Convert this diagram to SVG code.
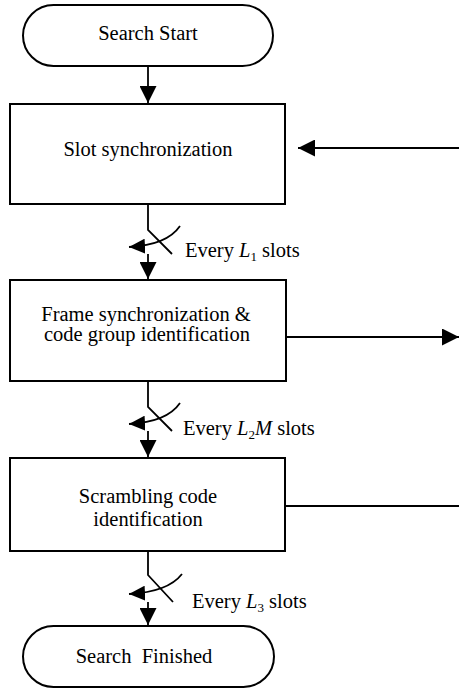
<svg xmlns="http://www.w3.org/2000/svg" width="459" height="690" viewBox="0 0 459 690">
  <style>
    .shape { fill: #fff; stroke: #000; stroke-width: 2; }
    .wire { fill: none; stroke: #000; stroke-width: 1.8; }
    text { font-family: 'Liberation Serif', 'DejaVu Serif', serif; font-size: 20.5px; fill: #000; }
    .mid { text-anchor: middle; }
    .var { font-style: italic; }
    .sub { font-size: 13px; }
  </style>
  <defs>
    <marker id="arrow" viewBox="0 0 17 17" refX="17" refY="8.5" markerWidth="17" markerHeight="17" markerUnits="userSpaceOnUse" orient="auto">
      <path d="M0,0 L17,8.5 L0,17 z" fill="#000"/>
    </marker>
    <marker id="arrow-small" viewBox="0 0 16 15" refX="16" refY="7.5" markerWidth="16" markerHeight="15" markerUnits="userSpaceOnUse" orient="auto">
      <path d="M0,0 L16,7.5 L0,15 z" fill="#000"/>
    </marker>
  </defs>

  <rect width="459" height="690" fill="#fff"/>

  <g id="connectors">
    <!-- start to slot sync -->
    <path class="wire" d="M148,66 L148,103" marker-end="url(#arrow)"/>

    <!-- switch after slot sync -->
    <path class="wire" d="M148,204 L148,230 L172,254"/>
    <path class="wire" d="M180,226 Q167,245 129,247" marker-end="url(#arrow-small)"/>
    <path class="wire" d="M148,254 L148,279" marker-end="url(#arrow)"/>

    <!-- switch after frame sync -->
    <path class="wire" d="M148,381 L148,407 L172,431"/>
    <path class="wire" d="M180,403 Q167,422 129,424" marker-end="url(#arrow-small)"/>
    <path class="wire" d="M148,431 L148,457" marker-end="url(#arrow)"/>

    <!-- switch after scrambling code -->
    <path class="wire" d="M148,551 L148,575 L173,602"/>
    <path class="wire" d="M182,574 Q168,592 129,594" marker-end="url(#arrow-small)"/>
    <path class="wire" d="M148,602 L148,625" marker-end="url(#arrow)"/>

    <!-- side branches -->
    <path class="wire" d="M459,148 L298,148" marker-end="url(#arrow)"/>
    <path class="wire" d="M286,337 L459,337" marker-end="url(#arrow)"/>
    <path class="wire" d="M285,506 L459,506"/>
  </g>

  <g font-family="Liberation Serif, DejaVu Serif, serif" font-size="20.5">
    <g id="search-start">
      <rect class="shape" x="23" y="5" width="250" height="61" rx="30.5" ry="30.5"/>
      <text class="mid" x="148" y="40">Search Start</text>
    </g>

    <g id="slot-sync">
      <rect class="shape" x="10" y="104" width="275" height="100"/>
      <text class="mid" x="148" y="156">Slot synchronization</text>
    </g>

    <g id="frame-sync">
      <rect class="shape" x="10" y="280" width="276" height="101"/>
      <text class="mid" x="146" y="321">Frame synchronization &amp;</text>
      <text class="mid" x="147" y="341">code group identification</text>
    </g>

    <g id="scrambling-code">
      <rect class="shape" x="10" y="458" width="275" height="93"/>
      <text class="mid" x="148" y="503">Scrambling code</text>
      <text class="mid" x="148" y="526">identification</text>
    </g>

    <g id="search-finished">
      <rect class="shape" x="23" y="626" width="251" height="61" rx="30.5" ry="30.5"/>
      <text class="mid" x="144" y="663" xml:space="preserve">Search  Finished</text>
    </g>

    <g id="rate-labels">
      <text x="185" y="257">Every <tspan class="var">L</tspan><tspan class="sub" dy="4">1</tspan><tspan dy="-4"> slots</tspan></text>
      <text x="183" y="435">Every <tspan class="var">L</tspan><tspan class="sub" dy="4">2</tspan><tspan class="var" dy="-4">M</tspan> slots</text>
      <text x="192" y="608">Every <tspan class="var">L</tspan><tspan class="sub" dy="4">3</tspan><tspan dy="-4"> slots</tspan></text>
    </g>
  </g>
</svg>
